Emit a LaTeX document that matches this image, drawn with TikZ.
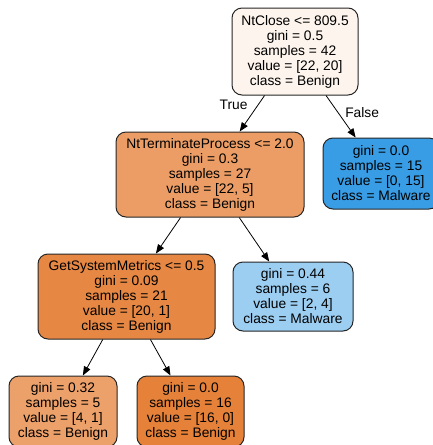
\documentclass[tikz,border=0pt]{standalone}
\usepackage{fontspec}
\setmainfont{Liberation Sans}
\usetikzlibrary{arrows.meta}
\definecolor{rootfill}{HTML}{FDF4ED}
\definecolor{ntfill}{HTML}{EB9D65}
\definecolor{gsmfill}{HTML}{E68743}
\definecolor{leafa}{HTML}{ECA06A}
\definecolor{leafb}{HTML}{E58139}
\definecolor{malfull}{HTML}{399DE5}
\definecolor{mallight}{HTML}{9CCEF2}
\tikzset{
  treenode/.style={draw=black!85, line width=1pt, rounded corners=10pt, align=center,
    inner sep=0pt, font=\fontsize{13.8}{15}\selectfont},
  edge/.style={-{Triangle[length=9pt,width=7pt]}, line width=0.8pt, black},
  edgelabel/.style={inner sep=0pt, font=\fontsize{13.8}{15}\selectfont}
}
\begin{document}
\begin{tikzpicture}[x=1pt,y=-1pt]
\useasboundingbox (0,0) rectangle (433,445);
\clip (0,0) rectangle (433,445);

\node[treenode, fill=rootfill, minimum width=126pt, minimum height=87pt] (root) at (295,51.5)
  {NtClose <= 809.5\\gini = 0.5\\samples = 42\\value = [22, 20]\\class = Benign};
\node[treenode, fill=ntfill, minimum width=188pt, minimum height=85pt] (nt) at (210,174.5)
  {NtTerminateProcess <= 2.0\\gini = 0.3\\samples = 27\\value = [22, 5]\\class = Benign};
\node[treenode, fill=malfull, minimum width=116pt, minimum height=71pt] (malA) at (381,173.5)
  {gini = 0.0\\samples = 15\\value = [0, 15]\\class = Malware};
\node[treenode, fill=gsmfill, minimum width=177pt, minimum height=85pt] (gsm) at (126.5,296.5)
  {GetSystemMetrics <= 0.5\\gini = 0.09\\samples = 21\\value = [20, 1]\\class = Benign};
\node[treenode, fill=mallight, minimum width=120pt, minimum height=69pt] (malB) at (293,296.5)
  {gini = 0.44\\samples = 6\\value = [2, 4]\\class = Malware};
\node[treenode, fill=leafa, minimum width=108pt, minimum height=71pt] (leafA) at (63,411.5)
  {gini = 0.32\\samples = 5\\value = [4, 1]\\class = Benign};
\node[treenode, fill=leafb, minimum width=107pt, minimum height=71pt] (leafB) at (190.5,411.5)
  {gini = 0.0\\samples = 16\\value = [16, 0]\\class = Benign};

\draw[edge] (root) -- node[edgelabel, pos=0.27, anchor=east, xshift=-10pt] {True} (nt);
\draw[edge] (root) -- node[edgelabel, pos=0.4, anchor=west, xshift=7pt] {False} (malA);
\draw[edge] (nt) -- (gsm);
\draw[edge] (nt) -- (malB);
\draw[edge] (gsm) -- (leafA);
\draw[edge] (gsm) -- (leafB);
\end{tikzpicture}
\end{document}
